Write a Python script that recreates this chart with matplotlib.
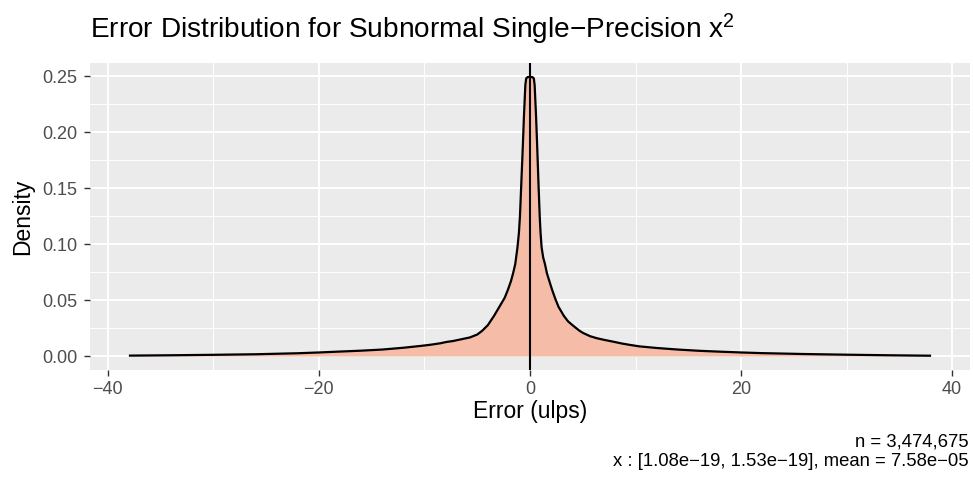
import matplotlib
matplotlib.use("Agg")
import matplotlib.pyplot as plt
from matplotlib.ticker import FixedLocator

plt.rcParams['font.family'] = ['Liberation Sans', 'DejaVu Sans']
plt.rcParams['mathtext.default'] = 'regular'

# Density estimate (error in ulps -> density)
err = [-37.9, -34, -30, -26, -22, -20, -18, -16, -14, -12, -10.4, -9.5, -8.5,
       -7.9, -7.3, -6.5, -5.7, -5.0, -4.55, -4.0, -3.4, -2.9, -2.4, -2.1,
       -1.8, -1.6, -1.4, -1.2, -1.05, -0.95, -0.82, -0.69, -0.57, -0.44,
       -0.36, -0.2, 0, 0.2, 0.36, 0.44, 0.57, 0.69, 0.80, 0.92, 1.0, 1.1,
       1.25, 1.42, 1.6, 1.83, 2.1, 2.4, 2.7, 3.2, 3.6, 4.1, 4.7, 5.05, 5.7,
       6.3, 7.0, 7.9, 8.7, 9.5, 10.4, 12, 14, 16, 18, 20, 22, 26, 30, 34, 37.9]
density = [0.0004, 0.0007, 0.0011, 0.0016, 0.0025, 0.0032, 0.0040, 0.0048,
           0.0058, 0.0074, 0.0090, 0.0100, 0.0114, 0.0126, 0.0134, 0.0150,
           0.0166, 0.0192, 0.0224, 0.0275, 0.0360, 0.0440, 0.0520, 0.0590,
           0.0670, 0.0740, 0.0820, 0.0960, 0.1100, 0.1250, 0.1550, 0.1850,
           0.2150, 0.2420, 0.2480, 0.2492, 0.2490, 0.2492, 0.2480, 0.2420,
           0.2150, 0.1850, 0.1550, 0.1250, 0.1100, 0.0970, 0.0880, 0.0820,
           0.0740, 0.0670, 0.0590, 0.0510, 0.0440, 0.0360, 0.0310, 0.0270,
           0.0225, 0.0205, 0.0177, 0.0160, 0.0145, 0.0128, 0.0112, 0.0099,
           0.0086, 0.0072, 0.0058, 0.0047, 0.0039, 0.0032, 0.0026, 0.0018,
           0.0012, 0.0007, 0.0003]

x_ticks = [-40, -20, 0, 20, 40]
x_minor = [-30, -10, 10, 30]
y_ticks = [0.00, 0.05, 0.10, 0.15, 0.20, 0.25]
y_minor = [0.025, 0.075, 0.125, 0.175, 0.225]
y_tick_labels = ["0.00", "0.05", "0.10", "0.15", "0.20", "0.25"]

title = "Error Distribution for Subnormal Single\u2212Precision x$^{2}$"
caption_1 = "n = 3,474,675"
caption_2 = "x : [1.08e\u221219, 1.53e\u221219], mean = 7.58e\u221205"

fig = plt.figure(figsize=(9.73, 4.8), dpi=100)
ax = fig.add_axes([90/973, 1-370/480, (970-90)/973, (370-63)/480])
ax.set_facecolor('#EBEBEB')
for s in ax.spines.values():
    s.set_visible(False)

ax.fill_between(err, 0, density, color='#F5BDA7', lw=0, zorder=2)
ax.plot(err, density, color='black', lw=1.6, zorder=3, solid_joinstyle='round')
ax.axvline(0, color='black', lw=1.5, zorder=4)

xmin, xmax = min(err), max(err)
xr = xmax - xmin
ax.set_xlim(xmin - 0.05*xr, xmax + 0.05*xr)
ymax = max(density)
ax.set_ylim(-0.05*ymax, ymax*1.05)

ax.xaxis.set_major_locator(FixedLocator(x_ticks))
ax.xaxis.set_minor_locator(FixedLocator(x_minor))
ax.yaxis.set_major_locator(FixedLocator(y_ticks))
ax.set_yticklabels(y_tick_labels)
ax.yaxis.set_minor_locator(FixedLocator(y_minor))
ax.grid(which='major', color='white', lw=1.4, zorder=0)
ax.grid(which='minor', color='white', lw=0.7, zorder=0)
ax.set_axisbelow(True)
ax.tick_params(which='major', length=4.3, width=1.0, color='#333333',
               labelsize=13, labelcolor='#4D4D4D')
ax.tick_params(axis='x', which='major', pad=3.3)
ax.tick_params(axis='y', which='major', pad=4.8)
ax.tick_params(which='minor', length=0)

ax.set_xlabel("Error (ulps)", fontsize=16.5, labelpad=2)
ax.set_ylabel("Density", fontsize=16.5, labelpad=6)
fig.text(90/973, 1-38.5/480, title, fontsize=20.2, ha='left', va='baseline')
fig.text(968.5/973, 1-446.5/480, caption_1, fontsize=13.3, ha='right', va='baseline')
fig.text(968.5/973, 1-465.5/480, caption_2, fontsize=13.3, ha='right', va='baseline')

fig.savefig("out.png", dpi=100)
